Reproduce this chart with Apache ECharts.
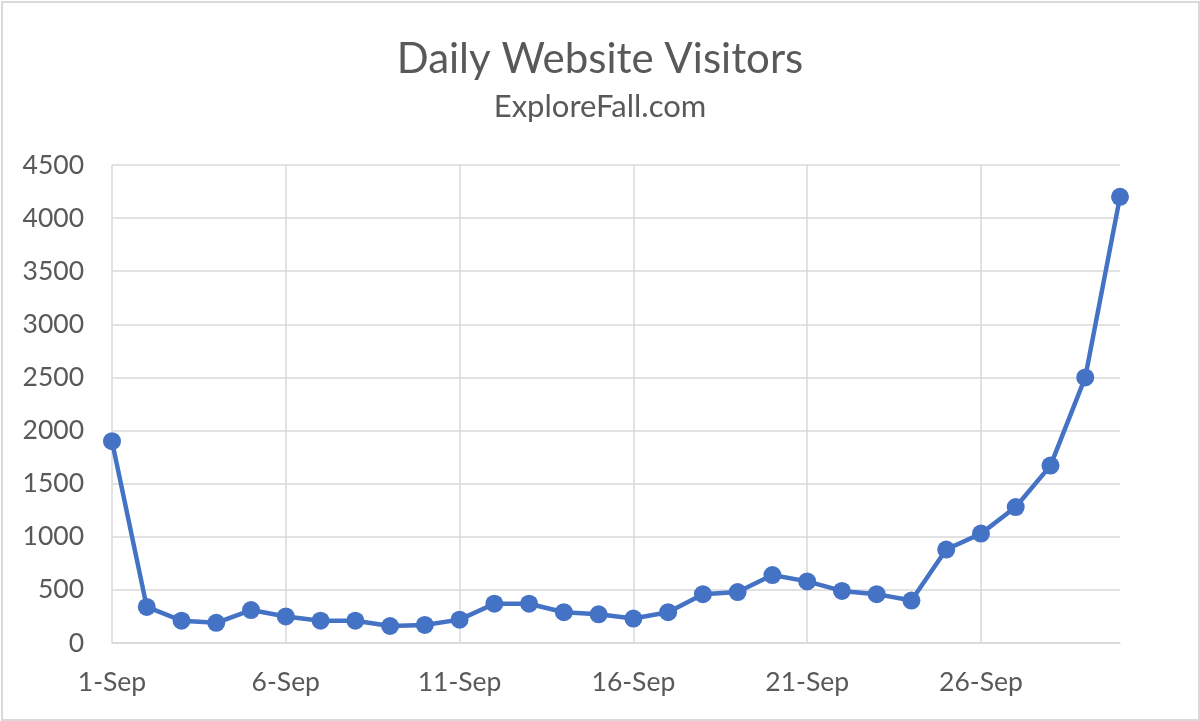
<!DOCTYPE html>
<html>
<head>
<meta charset="utf-8">
<script src="https://cdn.jsdelivr.net/npm/echarts@6/dist/echarts.min.js"></script>
<style>
html,body{margin:0;padding:0;background:#fff;}
#frame{position:absolute;left:1px;top:1px;width:1195px;height:716px;border:2px solid #d9d9d9;box-sizing:content-box;}
#chart{position:absolute;left:0;top:0;width:1200px;height:721px;}
</style>
</head>
<body>
<div id="frame"></div>
<div id="chart"></div>
<script>
const titleText = 'Daily Website Visitors';
const subtitleText = 'ExploreFall.com';
const days = [];
for (let d = 1; d <= 30; d++) days.push(d + '-Sep');
const visitors = [1900, 340, 210, 190, 310, 250, 210, 210, 160, 170,
                  220, 370, 370, 290, 270, 230, 290, 460, 480, 640,
                  580, 490, 460, 400, 880, 1030, 1280, 1670, 2500, 4200];
const yMin = 0, yMax = 4500, yStep = 500;

const chart = echarts.init(document.getElementById('chart'), null, {renderer: 'canvas'});
const font = 'Lato, "Open Sans", sans-serif';
chart.setOption({
  animation: false,
  backgroundColor: 'transparent',
  title: [
    {text: titleText, left: 'center', top: 33,
     textStyle: {fontFamily: font, fontSize: 42, fontWeight: 'normal', color: '#595959'}},
    {text: subtitleText, left: 'center', top: 86,
     textStyle: {fontFamily: font, fontSize: 31, fontWeight: 'normal', color: '#595959'}}
  ],
  grid: {left: 112, right: 80, top: 165, bottom: 78, containLabel: false},
  xAxis: {
    type: 'category', data: days, boundaryGap: false,
    axisLine: {show: true, lineStyle: {color: '#d9d9d9', width: 1.5}},
    axisTick: {show: false},
    axisLabel: {interval: 4, margin: 26, fontFamily: font, fontSize: 26.5, color: '#595959'},
    splitLine: {show: true, interval: 4, lineStyle: {color: '#d9d9d9', width: 1.5}}
  },
  yAxis: {
    type: 'value', min: yMin, max: yMax, interval: yStep,
    axisLine: {show: false}, axisTick: {show: false},
    axisLabel: {margin: 28, fontFamily: font, fontSize: 26.5, color: '#595959',
                formatter: v => String(v)},
    splitLine: {show: true, lineStyle: {color: '#d9d9d9', width: 1.5}}
  },
  series: [{
    type: 'line', data: visitors,
    symbol: 'circle', symbolSize: 18,
    itemStyle: {color: '#4472C4'},
    lineStyle: {color: '#4472C4', width: 4.5},
    z: 3
  }]
});
</script>
</body>
</html>
